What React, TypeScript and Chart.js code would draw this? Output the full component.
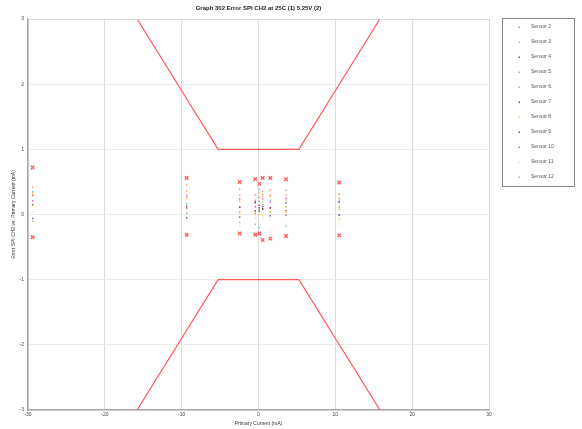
import React, { useEffect, useRef } from "react";
import { Chart, registerables } from "chart.js";

Chart.register(...registerables);

const TITLE = "Graph 302 Error SPI CH2 at 25C (1) 5.25V (2)";
const X_TITLE = "Primary Current (mA)";
const Y_TITLE = "Error SPI CH2 vs. Primary Current (mA)";

const testCurrents = [-29.4, -9.35, -2.45, -0.42, 0.1, 0.54, 1.54, 3.58, 10.5];

const sensorNames = ["Sensor 2", "Sensor 3", "Sensor 4", "Sensor 5", "Sensor 6", "Sensor 7", "Sensor 8", "Sensor 9", "Sensor 10", "Sensor 11", "Sensor 12"];
const sensorColors = ["#f08a5a", "#f0b040", "#6a4c9c", "#9cc43c", "#6cc0f0", "#c02050", "#f0e030", "#606070", "#e050e0", "#dde6ee", "#f5a060"];

const sensor2 = [0.42, 0.45, 0.39, 0.30, 0.39, 0.35, 0.38, 0.37, 0.31];
const sensor3 = [0.30, 0.36, 0.30, 0.22, 0.33, 0.31, 0.28, 0.30, 0.25];
const sensor4 = [-0.06, -0.05, -0.04, 0.20, 0.05, 0.12, -0.02, 0.18, -0.01];
const sensor5 = [-0.10, 0.02, 0.04, 0.02, 0.08, 0.15, 0.03, 0.12, 0.11];
const sensor6 = [0.35, 0.17, -0.12, -0.15, -0.20, 0.20, 0.22, -0.18, 0.22];
const sensor7 = [0.29, 0.10, 0.11, 0.06, 0.14, 0.08, 0.10, 0.06, 0.19];
const sensor8 = [0.13, 0.24, 0.02, 0.00, 0.00, -0.02, 0.04, 0.03, -0.07];
const sensor9 = [0.15, 0.13, 0.11, 0.18, 0.10, 0.09, 0.10, -0.01, -0.01];
const sensor10 = [0.21, 0.27, 0.24, 0.12, 0.20, 0.24, 0.19, 0.25, 0.19];
const sensor11 = [0.05, -0.08, -0.18, -0.05, -0.10, -0.06, -0.24, -0.15, -0.15];
const sensor12 = [0.33, 0.30, 0.20, 0.05, 0.26, 0.28, 0.30, 0.22, 0.08];
const sensorValues = [sensor2, sensor3, sensor4, sensor5, sensor6, sensor7, sensor8, sensor9, sensor10, sensor11, sensor12];

const boundUpper = [0.72, 0.56, 0.50, 0.54, 0.47, 0.56, 0.56, 0.54, 0.49];
const boundLower = [-0.35, -0.31, -0.29, -0.31, -0.29, -0.39, -0.37, -0.33, -0.32];

const limitX = [-15.8, -5.26, 5.26, 15.8];
const limitUpperY = [3, 1, 1, 3];
const limitLowerY = [-3, -1, -1, -3];

const xTicks = [-30, -20, -10, 0, 10, 20, 30];
const yTicks = [-3, -2, -1, 0, 1, 2, 3];

const FONT = "'Liberation Sans', Arial, sans-serif";

const PLOT = { left: 28, right: 489, top: 19, bottom: 410 };

const framePlugin = {
  id: "frame",
  afterDraw(chart: any) {
    const ctx = chart.ctx;
    const a = chart.chartArea;
    ctx.save();
    ctx.strokeStyle = "#d8d8d8";
    ctx.lineWidth = 1;
    ctx.beginPath();
    ctx.moveTo(a.left, a.top + 0.5);
    ctx.lineTo(a.right + 0.5, a.top + 0.5);
    ctx.lineTo(a.right + 0.5, a.bottom);
    ctx.stroke();
    ctx.fillStyle = "#222";
    ctx.font = `bold 6px ${FONT}`;
    ctx.textAlign = "center";
    ctx.textBaseline = "middle";
    ctx.fillText(TITLE, (a.left + a.right) / 2, 8);
    ctx.font = `5px ${FONT}`;
    ctx.fillStyle = "#333";
    ctx.fillText(X_TITLE, (a.left + a.right) / 2, 424);
    ctx.save();
    ctx.translate(14, (a.top + a.bottom) / 2);
    ctx.rotate(-Math.PI / 2);
    ctx.fillText(Y_TITLE, 0, 0);
    ctx.restore();
    const lx = 502, ly = 18, lw = 72, lh = 168;
    ctx.fillStyle = "#fff";
    ctx.fillRect(lx, ly, lw, lh);
    ctx.strokeStyle = "#888";
    ctx.lineWidth = 1;
    ctx.strokeRect(lx + 0.5, ly + 0.5, lw, lh);
    ctx.textAlign = "left";
    ctx.font = `5px ${FONT}`;
    sensorNames.forEach((n, i) => {
      const y = 27 + i * 15;
      ctx.fillStyle = sensorColors[i];
      ctx.fillRect(518.5, y - 0.5, 1.5, 1.5);
      ctx.fillStyle = "#555";
      ctx.fillText(n, 531, y);
    });
    ctx.restore();
  },
};

export default function App() {
  const ref = useRef<HTMLCanvasElement>(null);
  useEffect(() => {
    document.body.style.margin = "0";
    const datasets: any[] = [];
    datasets.push({
      label: "Upper Limit",
      data: limitX.map((x, i) => ({ x, y: limitUpperY[i] })),
      showLine: true,
      borderColor: "#ff5a5a",
      borderWidth: 1.2,
      pointRadius: 0,
      fill: false,
    });
    datasets.push({
      label: "Lower Limit",
      data: limitX.map((x, i) => ({ x, y: limitLowerY[i] })),
      showLine: true,
      borderColor: "#ff5a5a",
      borderWidth: 1.2,
      pointRadius: 0,
      fill: false,
    });
    datasets.push({
      label: "Bounds",
      data: [
        ...testCurrents.map((x, i) => ({ x, y: boundUpper[i] })),
        ...testCurrents.map((x, i) => ({ x, y: boundLower[i] })),
      ],
      pointStyle: "crossRot",
      pointRadius: 2.5,
      borderColor: "rgba(255,70,70,0.9)",
      backgroundColor: "rgba(255,70,70,0.9)",
      borderWidth: 1.3,
    });
    sensorNames.forEach((n, i) => {
      datasets.push({
        label: n,
        data: testCurrents.map((x, j) => ({ x, y: sensorValues[i][j] })),
        pointStyle: "rect",
        pointRadius: 1,
        borderWidth: 0,
        backgroundColor: sensorColors[i],
        borderColor: sensorColors[i],
      });
    });
    const chart = new Chart(ref.current!, {
      type: "scatter",
      data: { datasets },
      options: {
        animation: false,
        responsive: false,
        layout: { padding: { left: 0, right: 582 - PLOT.right, top: PLOT.top, bottom: 0 } },
        plugins: { legend: { display: false }, title: { display: false }, tooltip: { enabled: false } },
        scales: {
          x: {
            type: "linear",
            min: -30,
            max: 30,
            afterBuildTicks: (s: any) => { s.ticks = xTicks.map((v) => ({ value: v })); },
            afterFit: (s: any) => { s.height = 429 - PLOT.bottom; },
            ticks: { font: { size: 5, family: FONT }, color: "#444", padding: 2, maxRotation: 0 },
            grid: { color: "#dcdcdc", lineWidth: 1, drawTicks: false },
            border: { display: true, color: "#aaa", width: 1.5 },
          },
          y: {
            type: "linear",
            min: -3,
            max: 3,
            afterBuildTicks: (s: any) => { s.ticks = yTicks.map((v) => ({ value: v })); },
            afterFit: (s: any) => { s.width = PLOT.left; },
            ticks: { font: { size: 5, family: FONT }, color: "#444", padding: 4 },
            grid: { color: "#ececec", lineWidth: 1, drawTicks: false },
            border: { display: true, color: "#aaa", width: 1.5 },
          },
        },
      },
      plugins: [framePlugin],
    } as any);
    return () => chart.destroy();
  }, []);
  return (
    <div style={{ position: "absolute", left: 0, top: 0, width: 582, height: 429, background: "#fff" }}>
      <canvas ref={ref} width={582} height={429} style={{ width: 582, height: 429 }} />
    </div>
  );
}
